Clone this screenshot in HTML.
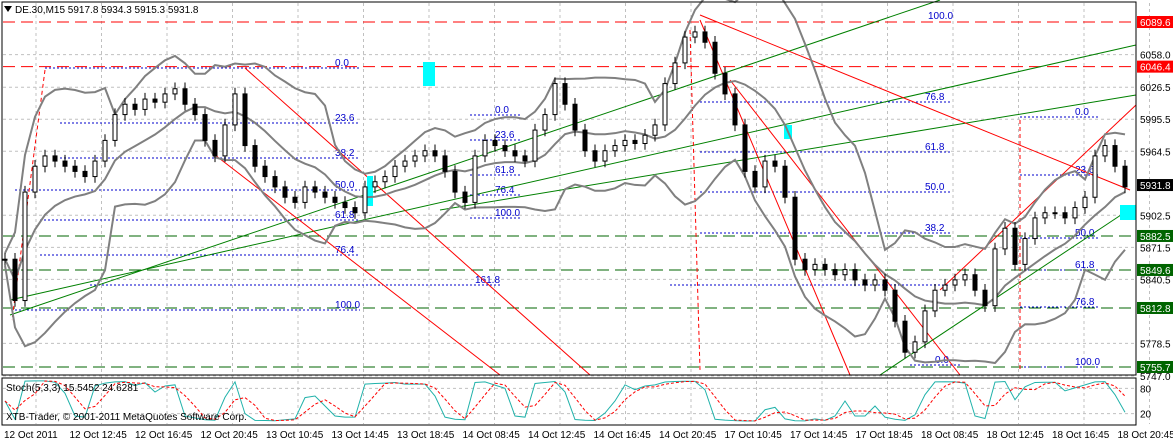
<!DOCTYPE html>
<html><head><meta charset="utf-8"><style>
body{margin:0;background:#fff;font-family:"Liberation Sans",sans-serif}
svg text{font-family:"Liberation Sans",sans-serif;font-size:10px}
</style></head><body>
<svg id="c" width="1173" height="443" xmlns="http://www.w3.org/2000/svg">
<rect x="0" y="0" width="1173" height="443" fill="#fff"/>
<g id="grid"></g>
<g id="fib"></g>
<g id="lines"></g>
<g id="bands"></g>
<g id="candles"></g>
<g id="stoch"></g>
<rect x="2" y="2" width="1134" height="373" fill="none" stroke="#000"/>
<rect x="2" y="378" width="1134" height="47" fill="none" stroke="#000"/>
<g id="axis"></g>
<polygon points="4,6 12,6 8,12" fill="#000"/>
<text x="15" y="13">DE.30,M15  5917.8 5934.3 5915.3 5931.8</text>
<text x="6" y="391">Stoch(5,3,3) 15.5452 24.6281</text>
<text x="6" y="420">XTB-Trader, © 2001-2011 MetaQuotes Software Corp.</text>
</svg>
<script>
const closes=[5860,5820,5925,5950,5960,5955,5950,5945,5940,5955,5975,6000,6010,6005,6015,6012,6020,6025,6010,6000,5975,5960,5990,6020,5970,5950,5940,5930,5920,5915,5930,5925,5920,5915,5910,5905,5930,5935,5940,5950,5955,5960,5965,5960,5945,5925,5915,5960,5975,5970,5965,5960,5955,5985,6000,6030,6010,5985,5965,5955,5965,5970,5975,5972,5980,5990,6030,6050,6075,6080,6070,6040,6020,5990,5945,5930,5955,5950,5920,5860,5850,5855,5850,5845,5850,5840,5835,5840,5830,5800,5770,5780,5810,5830,5835,5840,5845,5830,5815,5870,5890,5855,5880,5900,5905,5905,5900,5910,5920,5960,5970,5950,5930];
const priceTicks=[6058.0,6026.5,5995.5,5964.5,5902.5,5871.5,5840.5,5778.5,5747.0];
const timeLabels=["12 Oct 2011","12 Oct 12:45","12 Oct 16:45","12 Oct 20:45","13 Oct 10:45","13 Oct 14:45","13 Oct 18:45","14 Oct 08:45","14 Oct 12:45","14 Oct 16:45","14 Oct 20:45","17 Oct 10:45","17 Oct 14:45","17 Oct 18:45","18 Oct 08:45","18 Oct 12:45","18 Oct 16:45","18 Oct 20:45"];
const markLevels=[6089.6,6046.4,5931.8,5882.5,5849.6,5812.8,5755.7];
const markColors=["#f00","#f00","#000","#006400","#006400","#006400","#006400"];
const NS="http://www.w3.org/2000/svg";
const y=p=>22+(6089.6-p)*1.0332;
const x=i=>5+i*10;
const sy=v=>422-v/100*42;
function mk(par,tag,at){const e=document.createElementNS(NS,tag);for(const k in at)e.setAttribute(k,at[k]);document.getElementById(par).appendChild(e);return e;}
for(let k=0;k<18;k++){const gx=36+k*65.5;
 const g=mk('grid','line',{x1:gx,x2:gx,y1:3,y2:424,stroke:'#c0c0c0','stroke-dasharray':'3,3'});
 
 
 const t=mk('axis','text',{x:4+k*65.5,y:438});t.textContent=timeLabels[k];
 
 }
priceTicks.forEach(p=>{const g=mk('grid','line',{x1:3,x2:1136,y1:y(p),y2:y(p),stroke:'#c0c0c0','stroke-dasharray':'3,3'});
 
 
 const t=mk('axis','text',{x:1140,y:y(p)+4});t.textContent=p.toFixed(1);
 
 });
[80,20].forEach(v=>{const g=mk('grid','line',{x1:3,x2:1136,y1:sy(v),y2:sy(v),stroke:'#c0c0c0','stroke-dasharray':'3,3'});
 
 
 const t=mk('axis','text',{x:1140,y:sy(v)+4});t.textContent=v;
 
 });
markLevels.forEach((p,i)=>{
 if(i!=2){const l=mk('lines','line',{x1:3,x2:1136,y1:y(p),y2:y(p),stroke:markColors[i],'stroke-dasharray':'12,6'});
 
 }
 const r=mk('axis','rect',{x:1137,y:y(p)-6,width:36,height:12,fill:markColors[i]});
 
 
 const t=mk('axis','text',{x:1140,y:y(p)+4,fill:'#fff'});t.textContent=p.toFixed(1);
 
 });
[[10,315,940,0,'#008000'],[10,300,1136,45,'#008000'],[440,210,1136,95,'#008000'],[245,68,590,375,'#f00'],[215,155,500,375,'#f00'],[700,15,1130,190,'#f00'],[700,20,850,375,'#f00'],[730,80,960,375,'#f00'],[940,290,1136,105,'#f00'],[880,375,1136,205,'#008000'],[45,70,12,320,'#f00'],[690,30,700,370,'#f00'],[1020,120,1020,370,'#f00']].forEach(a=>{
 const l=mk('lines','line',{x1:a[0],y1:a[1],x2:a[2],y2:a[3],stroke:a[4],'stroke-dasharray':(a[0]==45||a[0]==690||a[0]==1020)?'4,3':'none'});
 
 });
[[45,360,68,'0.0'],[15,360,310,'100.0'],[60,360,123,'23.6'],[60,360,158,'38.2'],[15,360,190,'50.0'],[40,360,220,'61.8'],[40,360,255,'76.4'],[90,500,285,'161.8'],[470,520,115,'0.0'],[470,520,140,'23.6'],[470,520,175,'61.8'],[470,520,195,'76.4'],[470,520,218,'100.0'],[700,950,102,'76.8'],[700,950,152,'61.8'],[700,950,192,'50.0'],[700,950,233,'38.2'],[670,950,285,''],[910,960,365,'0.0'],[1020,1100,117,'0.0'],[1020,1100,175,'23.6'],[1020,1100,238,'50.0'],[1020,1100,270,'61.8'],[1020,1100,307,'76.8'],[1020,1100,367,'100.0']].forEach(a=>{
 const l=mk('fib','line',{x1:a[0],x2:a[1],y1:a[2],y2:a[2],stroke:'#00c','stroke-dasharray':'2,2'});
 
 
 if(a[3]){const t=mk('fib','text',{x:a[1]-25,y:a[2]-2,fill:'#00c'});t.textContent=a[3];
 
 }});
const l100=mk('fib','text',{x:928,y:19,fill:'#00c'});l100.textContent='100.0';
[[423,62,12,24],[784,125,8,14],[367,176,6,30],[1120,205,16,15]].forEach(a=>{const r=mk('lines','rect',{x:a[0],y:a[1],width:a[2],height:a[3],fill:'#0ff'});
 
 });
const N=10,up=[],mid=[],lo=[];
closes.forEach((c,i)=>{const s=closes.slice(Math.max(0,i-N+1),i+1);const m=s.reduce((a,b)=>a+b)/s.length;const sd=Math.sqrt(s.reduce((a,b)=>a+(b-m)**2,0)/s.length);
 mid.push(x(i)+','+y(m));up.push(x(i)+','+y(m+2*sd+6));lo.push(x(i)+','+y(m-2*sd-6));});
[up,mid,lo].forEach((pts,k)=>{const p=mk('bands','polyline',{points:pts.join(' '),fill:'none',stroke:'#808080','stroke-width':2});
 
 });
closes.forEach((c,i)=>{const o=i?closes[i-1]:c;const hi=Math.max(o,c)+6,low=Math.min(o,c)-6;
 const w=mk('candles','line',{x1:x(i),x2:x(i),y1:y(hi),y2:y(low),stroke:'#000'});
 
 
 const b=mk('candles','rect',{x:x(i)-2,y:y(Math.max(o,c)),width:4,height:Math.max(1,Math.abs(y(o)-y(c))),fill:c>=o?'#fff':'#000',stroke:'#000'});
 
 });
const K=[],D=[];
closes.forEach((c,i)=>{const s=closes.slice(Math.max(0,i-4),i+1);const h=Math.max(...s)+3,l=Math.min(...s)-3;K.push(100*(c-l)/(h-l));});
K.forEach((v,i)=>{const s=K.slice(Math.max(0,i-2),i+1);D.push(s.reduce((a,b)=>a+b)/s.length);});
const kp=mk('stoch','polyline',{points:K.map((v,i)=>x(i)+','+sy(v)).join(' '),fill:'none',stroke:'#20b2aa'});


const dp=mk('stoch','polyline',{points:D.map((v,i)=>x(i)+','+sy(v)).join(' '),fill:'none',stroke:'#f00','stroke-dasharray':'3,2'});


</script>
</body></html>
